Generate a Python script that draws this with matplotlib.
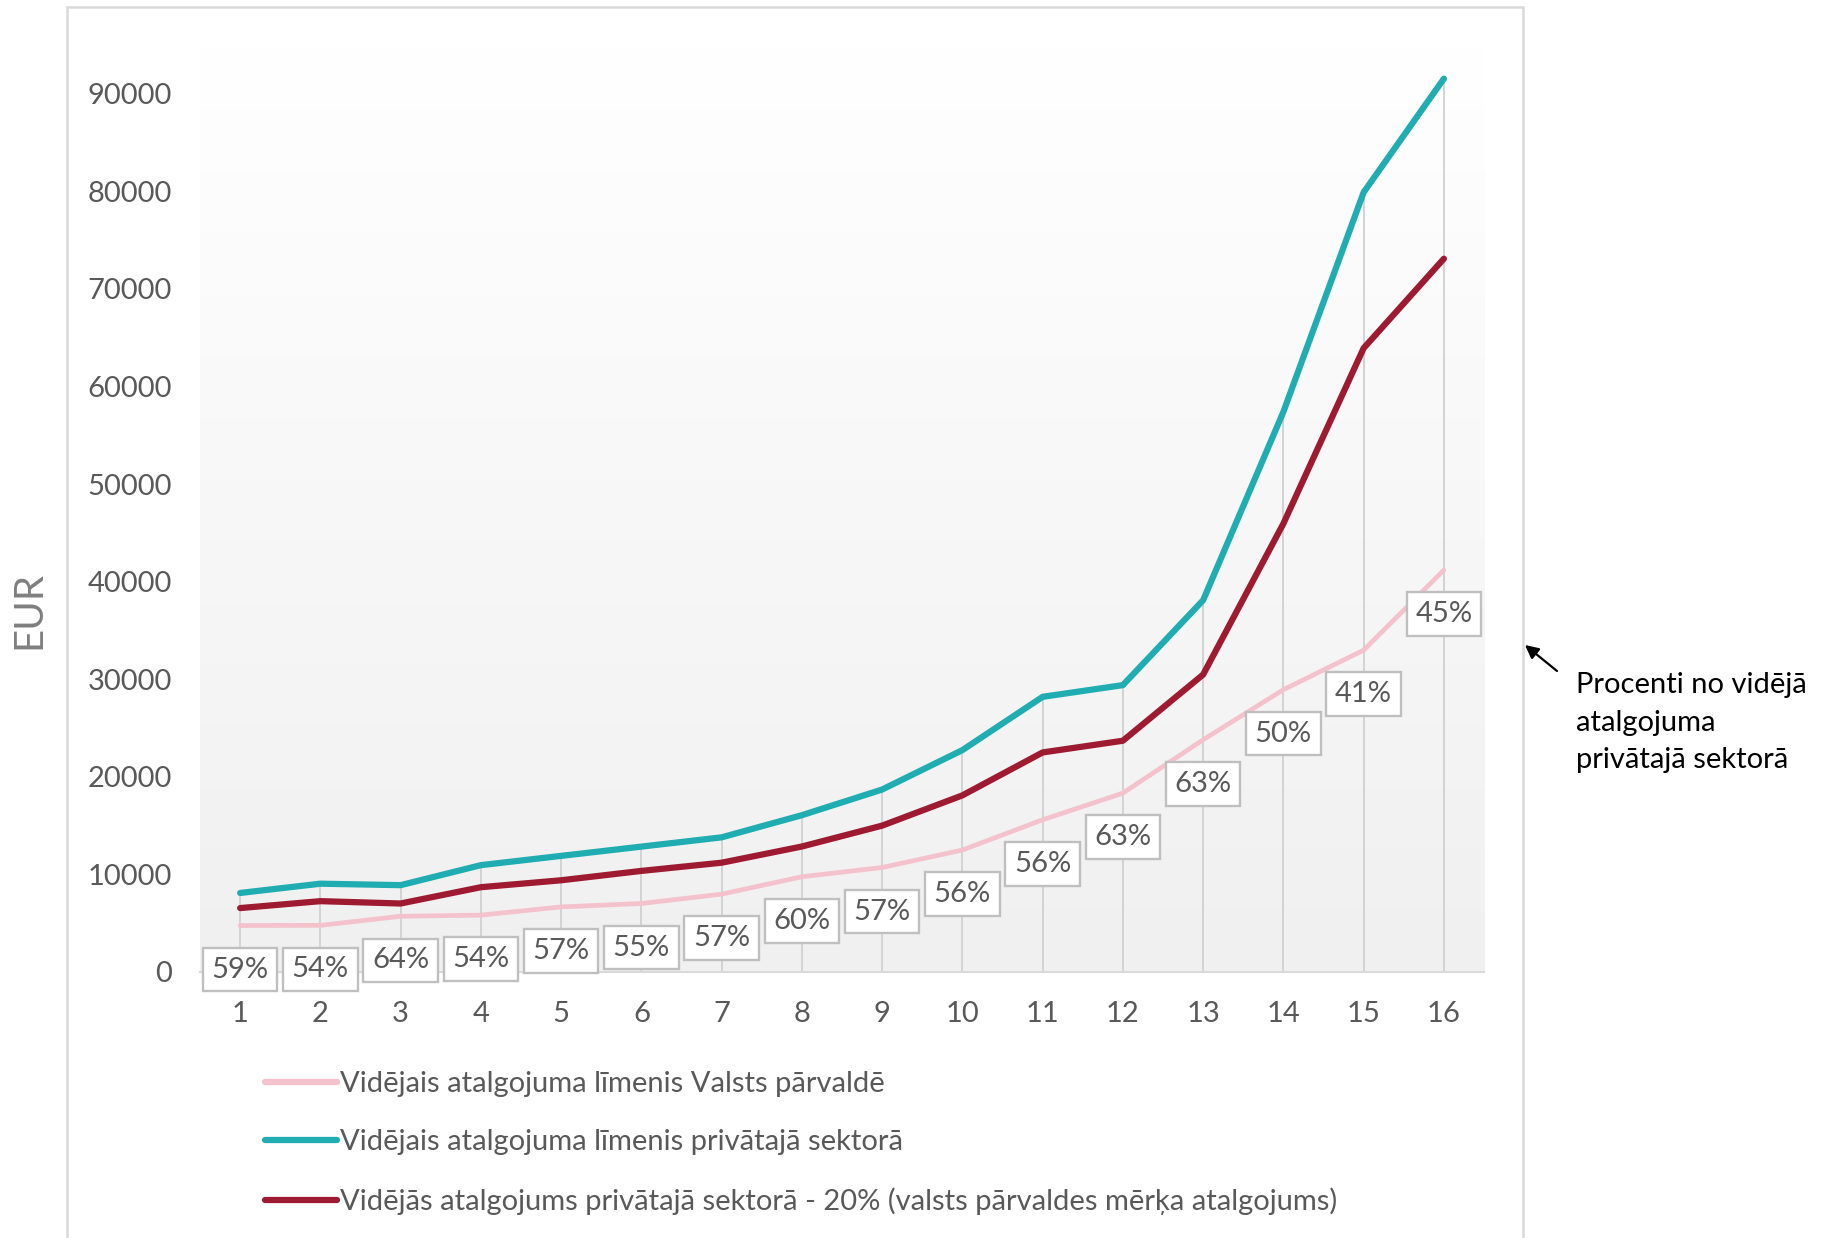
import matplotlib
matplotlib.use("Agg")
import matplotlib.pyplot as plt
import numpy as np
from matplotlib.patches import Rectangle
from matplotlib.colors import LinearSegmentedColormap

plt.rcParams['font.family'] = ['Lato', 'DejaVu Sans']

x = list(range(1, 17))
private = [8100, 9050, 8900, 10950, 11900, 12850, 13800, 16070, 18700, 22740,
           28200, 29400, 38100, 57400, 79900, 91550]
target = [6550, 7260, 7020, 8690, 9400, 10360, 11200, 12860, 15000, 18100,
          22500, 23700, 30480, 45950, 63930, 73100]
public = [4760, 4780, 5710, 5830, 6670, 7020, 7980, 9760, 10710, 12500,
          15600, 18330, 23800, 28930, 32980, 41190]
pct_labels = ['59%', '54%', '64%', '54%', '57%', '55%', '57%', '60%', '57%', '56%',
              '56%', '63%', '63%', '50%', '41%', '45%']
yticks = [0, 10000, 20000, 30000, 40000, 50000, 60000, 70000, 80000, 90000]

names = ['Vidējais atalgojuma līmenis Valsts pārvaldē',
         'Vidējais atalgojuma līmenis privātajā sektorā',
         'Vidējās atalgojums privātajā sektorā - 20% (valsts pārvaldes mērķa atalgojums)']

W, H = 1821, 1238
fig = plt.figure(figsize=(W / 100, H / 100), dpi=100)
ax = fig.add_axes([200 / W, (H - 972) / H, (1484 - 200) / W, 927 / H])

TXT = '#595959'
c_pub, c_priv, c_tgt = '#F4C2CC', '#1FADB1', '#9E1A30'
FS = 21

ax.set_xlim(0.5, 16.5)
ax.set_ylim(0, 95000)

# gradient background
grad = np.linspace(0, 1, 256).reshape(-1, 1)
cmap = LinearSegmentedColormap.from_list('g', ['#F0F0F0', '#FFFFFF'])
ax.imshow(grad, extent=[0.5, 16.5, 0, 95000], origin='lower', aspect='auto',
          cmap=cmap, zorder=0)

# drop lines
ax.vlines(x, 0, private, colors='#D0D0D0', lw=1.3, zorder=1)

l1, = ax.plot(x, public, color=c_pub, lw=3.4, zorder=3, solid_capstyle='round')
l2, = ax.plot(x, private, color=c_priv, lw=4.5, zorder=4, solid_capstyle='round')
l3, = ax.plot(x, target, color=c_tgt, lw=4.5, zorder=4, solid_capstyle='round')

for xi, yi, lab in zip(x, public, pct_labels):
    ax.annotate(lab, (xi, yi), xytext=(0, -31.7), textcoords='offset points',
                ha='center', va='center', fontsize=FS, color=TXT, zorder=6,
                bbox=dict(boxstyle='square,pad=0.3', fc='white', ec='#BFBFBF', lw=1.7))

for s in ['left', 'right', 'top']:
    ax.spines[s].set_visible(False)
ax.spines['bottom'].set_color('#D9D9D9')
ax.spines['bottom'].set_linewidth(1.5)
ax.spines['bottom'].set_zorder(2)

ax.set_xticks(x)
ax.set_xticklabels([str(v) for v in x])
ax.set_yticks(yticks)
ax.set_yticklabels([str(v) for v in yticks])
ax.tick_params(axis='both', length=0, labelsize=FS, colors=TXT)
ax.tick_params(axis='x', pad=21)
ax.tick_params(axis='y', pad=20)

fig.text(29 / W, (H - 610) / H, 'EUR', rotation=90, ha='center', va='center',
         fontsize=29, color='#7F7F7F', fontweight='normal')

leg = fig.legend([l1, l2, l3], names, loc='upper left',
                 bbox_to_anchor=(265 / W, (H - 1071) / H), frameon=False,
                 fontsize=FS, handlelength=2.47, handletextpad=0.1,
                 labelspacing=1.1, borderpad=0, borderaxespad=0)
for t in leg.get_texts():
    t.set_color(TXT)
for h in leg.legend_handles:
    h.set_linewidth(4.5)

# outer border
fig.patches.append(Rectangle((67 / W, -0.05), (1523 - 67) / W, 1.05 - 7 / H,
                             transform=fig.transFigure, fill=False,
                             ec='#D9D9D9', lw=1.8))

fig.text(1576 / W, (H - 672) / H, 'Procenti no vidējā\natalgojuma\nprivātajā sektorā',
         fontsize=21, color='black', va='top', ha='left', linespacing=1.55,
         transform=fig.transFigure)
ax.annotate('', xy=(1525, H - 645), xycoords='figure pixels',
            xytext=(1557, H - 671), textcoords='figure pixels',
            arrowprops=dict(arrowstyle='-|>', color='black', lw=1.6, mutation_scale=20,
                            shrinkA=0, shrinkB=0))

fig.savefig('out.png', dpi=100)
